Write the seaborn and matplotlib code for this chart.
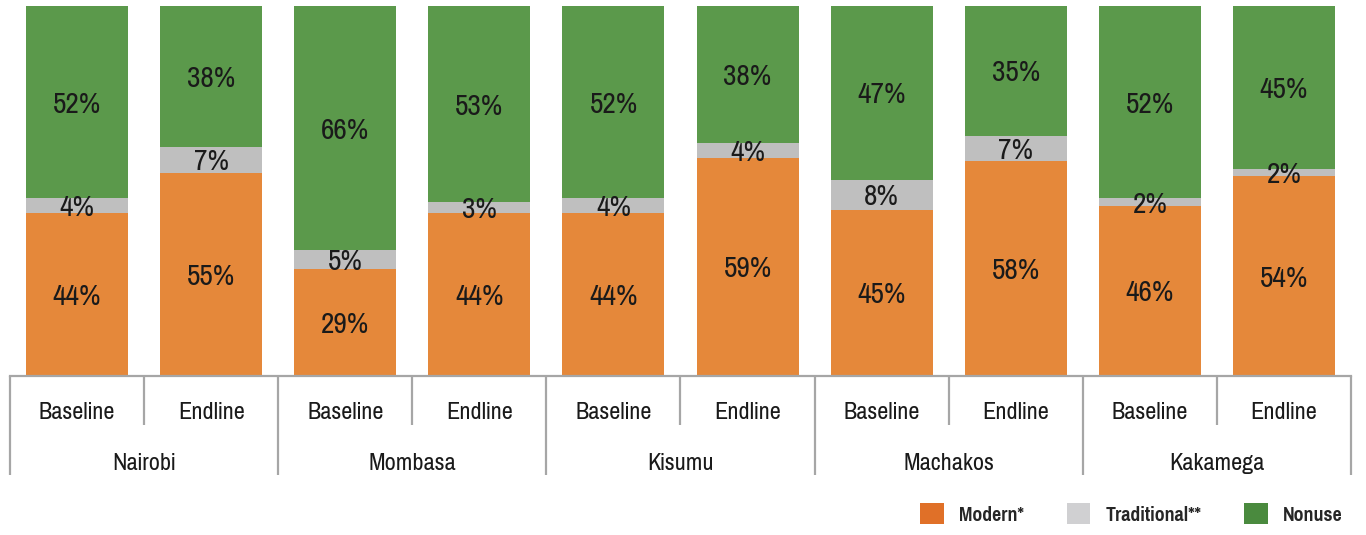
import numpy as np
import pandas as pd
import matplotlib
matplotlib.use("Agg")
import matplotlib.pyplot as plt
import seaborn as sns
from matplotlib.patches import Patch

cities = ["Nairobi", "Mombasa", "Kisumu", "Machakos", "Kakamega"]
rounds = ["Baseline", "Endline"]
modern = [44, 55, 29, 44, 44, 59, 45, 58, 46, 54]
traditional = [4, 7, 5, 3, 4, 4, 8, 7, 2, 2]
nonuse = [52, 38, 66, 53, 52, 38, 47, 35, 52, 45]
legend_labels = ["Modern*", "Traditional**", "Nonuse"]

c_mod = "#E5883A"
c_trad = "#BFBFBF"
c_non = "#5B994B"

sns.set_theme(style="white")
fam = ["Pragati Narrow", "Archivo Narrow", "Liberation Sans", "DejaVu Sans"]
plt.rcParams["font.family"] = fam

keys = [f"{c}|{r}" for c in cities for r in rounds]
df = pd.DataFrame({
    "key": keys,
    "modern": modern,
    "traditional": traditional,
    "nonuse": nonuse,
})
df["cum2"] = df["modern"] + df["traditional"]
df["cum3"] = df["cum2"] + df["nonuse"]

fig = plt.figure(figsize=(13.66, 5.35), dpi=100)
ax = fig.add_axes([10 / 1366, (535 - 376) / 535, (1351 - 10) / 1366, 370 / 535])

w = 0.76
for col, colr in [("cum3", c_non), ("cum2", c_trad), ("modern", c_mod)]:
    sns.barplot(data=df, x="key", y=col, order=keys, color=colr, width=w,
                saturation=1, ax=ax, errorbar=None, linewidth=0, edgecolor="none")

ax.set_xlim(-0.5, len(keys) - 0.5)
ax.set_ylim(0, 100)
ax.set_xlabel("")
ax.set_ylabel("")
ax.set_xticks([])
ax.set_yticks([])
for s in ["top", "right", "left"]:
    ax.spines[s].set_visible(False)
ax.spines["bottom"].set_color("#A6A6A6")
ax.spines["bottom"].set_linewidth(1.6)

lab_kw = dict(ha="center", va="center_baseline", fontsize=23, color="#1a1a1a")
for i in range(len(keys)):
    m, t, n = modern[i], traditional[i], nonuse[i]
    ax.text(i, m / 2, f"{m}%", **lab_kw)
    ax.text(i, m + t / 2, f"{t}%", **lab_kw)
    top = min(m + t + n, 100)
    ax.text(i, (m + t + top) / 2, f"{n}%", **lab_kw)

trans = ax.get_xaxis_transform()
lc = "#A6A6A6"
for k in range(len(keys) + 1):
    x = -0.5 + k
    y_end = -0.268 if k % 2 == 0 else -0.132
    ax.plot([x, x], [0, y_end], transform=trans, color=lc, lw=1.6,
            clip_on=False, solid_capstyle="butt")

for i, kname in enumerate(keys):
    ax.text(i, -0.092, kname.split("|")[1], transform=trans, ha="center",
            va="center_baseline", fontsize=19, color="#1a1a1a")
for j, c in enumerate(cities):
    ax.text(2 * j + 0.5, -0.23, c, transform=trans, ha="center",
            va="center_baseline", fontsize=19, color="#1a1a1a")

handles = [Patch(facecolor=c, edgecolor="none") for c in ["#E07028", "#D0D0D2", "#4A8A3E"]]
leg = fig.legend(handles, legend_labels, loc="lower right",
                 bbox_to_anchor=(1362 / 1366, -9 / 535), ncol=3, frameon=False,
                 fontsize=15.5, handlelength=1.1, handleheight=1.1,
                 columnspacing=2.0, handletextpad=0.7)
for t in leg.get_texts():
    t.set_color("#262626")
    t.set_fontweight("bold")

fig.savefig("out.png", dpi=100)
